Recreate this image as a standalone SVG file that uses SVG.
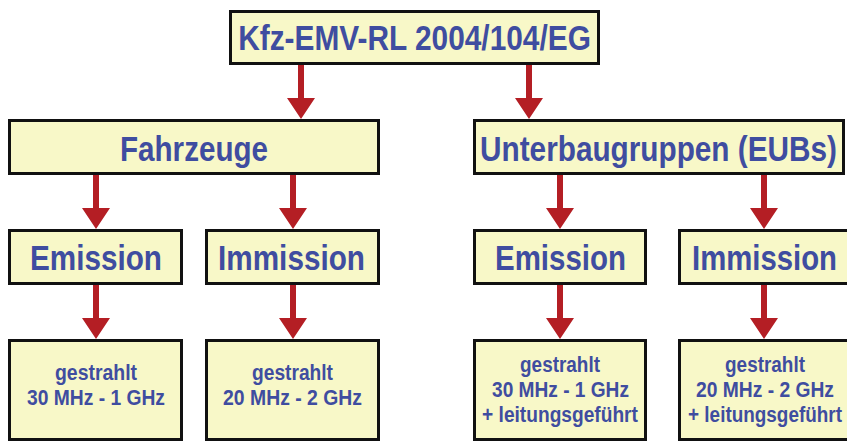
<svg xmlns="http://www.w3.org/2000/svg" width="847" height="442" viewBox="0 0 847 442">
<style>
.box{fill:#F8F8C8;stroke:#111;stroke-width:3}
.t{font-family:"Liberation Sans",Arial,sans-serif;font-weight:bold;fill:#3F4DA0;text-anchor:middle}
.big{font-size:35px}
.sm{font-size:22px}
.arr{fill:#B41E24}
</style>
<rect width="847" height="442" fill="#fff"/>
<g id="connectors">
<path class="arr" d="M298 65h6v33h11l-14 21l-14-21h11z"/>
<path class="arr" d="M526 65h6v33h11l-14 21l-14-21h11z"/>
<path class="arr" d="M93 175h6v33h11l-14 21l-14-21h11z"/>
<path class="arr" d="M290 175h6v33h11l-14 21l-14-21h11z"/>
<path class="arr" d="M557 175h6v33h11l-14 21l-14-21h11z"/>
<path class="arr" d="M761 175h6v33h11l-14 21l-14-21h11z"/>
<path class="arr" d="M93 285h6v33h11l-14 21l-14-21h11z"/>
<path class="arr" d="M290 285h6v33h11l-14 21l-14-21h11z"/>
<path class="arr" d="M557 285h6v33h11l-14 21l-14-21h11z"/>
<path class="arr" d="M761 285h6v33h11l-14 21l-14-21h11z"/>
</g>
<g id="root">
<rect class="box" x="230.5" y="11.5" width="368" height="52"/>
<text class="t big" transform="translate(414.5,50) scale(0.853,1)">Kfz-EMV-RL 2004/104/EG</text>
</g>
<g id="fahrzeuge">
<rect class="box" x="9.5" y="120.5" width="369" height="53"/>
<text class="t big" transform="translate(194,161) scale(0.846,1)">Fahrzeuge</text>
</g>
<g id="eubs">
<rect class="box" x="474.5" y="120.5" width="369" height="53"/>
<text class="t big" transform="translate(658.5,161) scale(0.85,1)">Unterbaugruppen (EUBs)</text>
</g>
<g id="emission-f">
<rect class="box" x="9.5" y="230.5" width="172" height="53"/>
<text class="t big" transform="translate(96,270) scale(0.848,1)">Emission</text>
</g>
<g id="immission-f">
<rect class="box" x="206.5" y="230.5" width="172" height="53"/>
<text class="t big" transform="translate(291.5,270) scale(0.849,1)">Immission</text>
</g>
<g id="emission-e">
<rect class="box" x="474.5" y="230.5" width="171" height="53"/>
<text class="t big" transform="translate(560.5,270) scale(0.842,1)">Emission</text>
</g>
<g id="immission-e">
<rect class="box" x="679.5" y="230.5" width="169.5" height="53"/>
<text class="t big" transform="translate(764.5,270) scale(0.838,1)">Immission</text>
</g>
<g id="leaf-ef">
<rect class="box" x="9.5" y="340.5" width="172" height="99"/>
<text class="t sm" transform="translate(96,380) scale(0.883,1)">gestrahlt</text>
<text class="t sm" transform="translate(96,405) scale(0.875,1)">30 MHz - 1 GHz</text>
</g>
<g id="leaf-if">
<rect class="box" x="206.5" y="340.5" width="172" height="99"/>
<text class="t sm" transform="translate(292.5,380) scale(0.872,1)">gestrahlt</text>
<text class="t sm" transform="translate(292.5,405) scale(0.881,1)">20 MHz - 2 GHz</text>
</g>
<g id="leaf-ee">
<rect class="box" x="474.5" y="340.5" width="171" height="99"/>
<text class="t sm" transform="translate(560,372) scale(0.861,1)">gestrahlt</text>
<text class="t sm" transform="translate(560.5,397) scale(0.869,1)">30 MHz - 1 GHz</text>
<text class="t sm" transform="translate(560,422) scale(0.871,1)">+ leitungsgeführt</text>
</g>
<g id="leaf-ie">
<rect class="box" x="679.5" y="340.5" width="169.5" height="99"/>
<text class="t sm" transform="translate(765,372) scale(0.861,1)">gestrahlt</text>
<text class="t sm" transform="translate(765,397) scale(0.875,1)">20 MHz - 2 GHz</text>
<text class="t sm" transform="translate(765,422) scale(0.86,1)">+ leitungsgeführt</text>
</g>
</svg>
